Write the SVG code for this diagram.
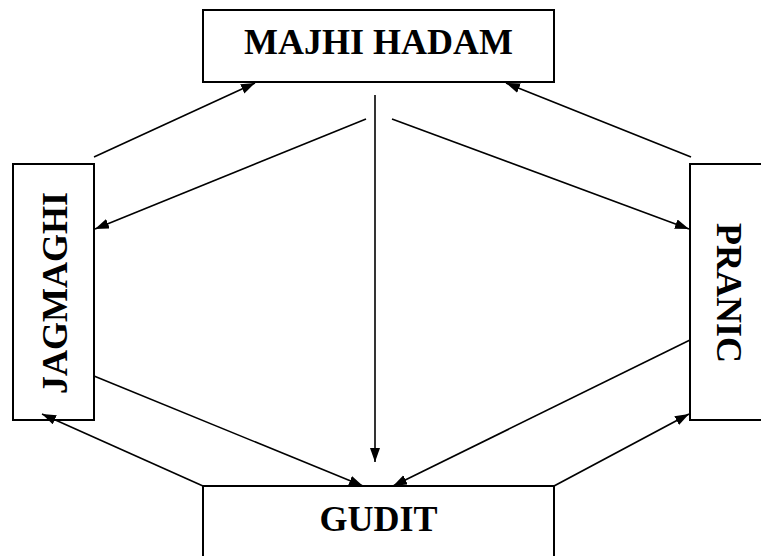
<svg xmlns="http://www.w3.org/2000/svg" width="761" height="556" viewBox="0 0 761 556">
<style>
.box{fill:#fff;stroke:#000;stroke-width:2}
.lbl{font-family:"Liberation Serif","Times New Roman",serif;font-weight:bold;font-size:36px;fill:#000;text-anchor:middle}
.c{stroke:#000;stroke-width:1.6;fill:none}
.a{marker-end:url(#ah)}
</style>
<defs>
<marker id="ah" markerUnits="userSpaceOnUse" markerWidth="16" markerHeight="12" refX="14" refY="5" orient="auto" viewBox="0 0 16 12">
<path d="M0,0 L14,5 L0,10 Z" fill="#000"/>
</marker>
</defs>
<rect width="761" height="556" fill="#fff"/>
<g id="majhi-hadam">
<rect class="box" x="203" y="10" width="351" height="72"/>
<text class="lbl" x="378.5" y="54">MAJHI HADAM</text>
</g>
<g id="jagmaghi">
<rect class="box" x="13" y="164" width="81" height="256"/>
<text class="lbl" transform="translate(67,293) rotate(-90)">JAGMAGHI</text>
</g>
<g id="pranic">
<rect class="box" x="690" y="164" width="80" height="256"/>
<text class="lbl" transform="translate(717,293) rotate(90)">PRANIC</text>
</g>
<g id="gudit">
<rect class="box" x="203" y="486" width="351" height="80"/>
<text class="lbl" x="378.5" y="531">GUDIT</text>
</g>
<g id="connectors">
<line class="c a" x1="94" y1="157" x2="255" y2="83"/>
<line class="c a" x1="366" y1="119" x2="95" y2="229"/>
<line class="c a" x1="375" y1="95" x2="375" y2="462"/>
<line class="c a" x1="392" y1="119" x2="689" y2="229"/>
<line class="c a" x1="691" y1="157" x2="506" y2="83"/>
<line class="c a" x1="94" y1="376" x2="363" y2="486"/>
<line class="c a" x1="690" y1="340" x2="393" y2="486"/>
<line class="c a" x1="203" y1="486" x2="42" y2="414"/>
<line class="c a" x1="554" y1="486" x2="689" y2="414"/>
</g>
</svg>
